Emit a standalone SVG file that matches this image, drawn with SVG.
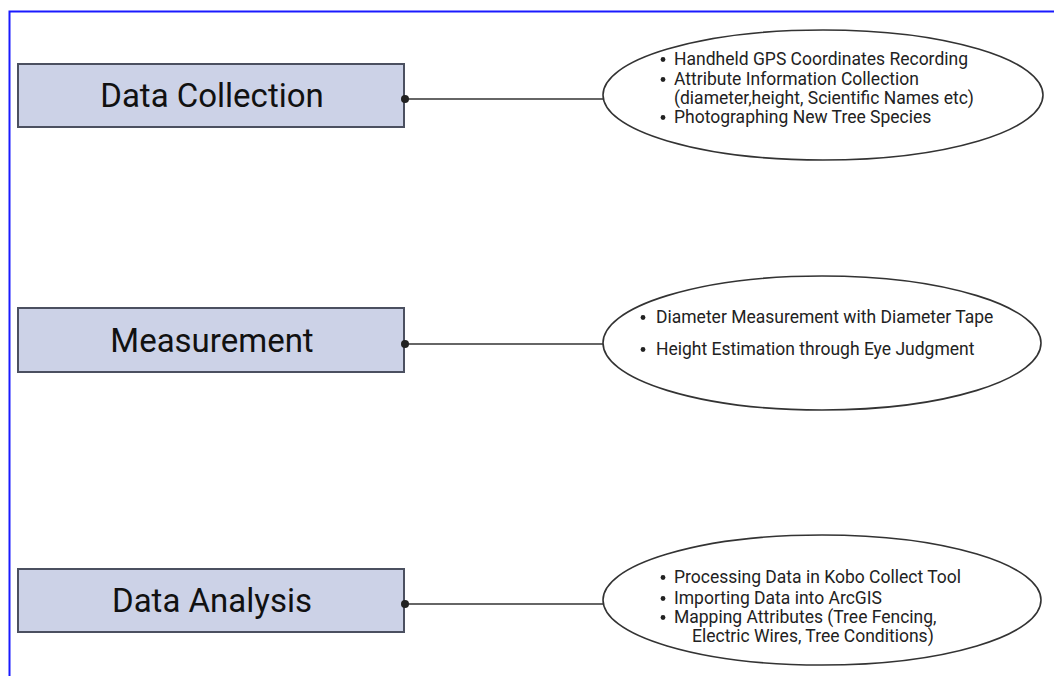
<svg xmlns="http://www.w3.org/2000/svg" width="1054" height="676" viewBox="0 0 1054 676">
<style>
.box{fill:#ccd2e7;stroke:#4b5060;stroke-width:2}
.title{font-family:Roboto,"Liberation Sans",sans-serif;font-size:33px;fill:#111;text-anchor:middle}
.ell{fill:#fff;stroke:#333;stroke-width:1.6}
.item{font-family:Roboto,"Liberation Sans",sans-serif;font-size:17.5px;fill:#222}
.bul{fill:#222}
.conn{stroke:#333;stroke-width:1.6;fill:none}
.end{fill:#222}
</style>
<rect width="1054" height="676" fill="#fff"/>
<path d="M9.5 676 V11.5 H1054" fill="none" stroke="#1a1aff" stroke-width="2"/>
<g id="data-collection">
<rect class="box" x="18" y="64" width="386" height="63"/>
<text class="title" x="212" y="107">Data Collection</text>
</g>
<g id="measurement">
<rect class="box" x="18" y="308" width="386" height="64"/>
<text class="title" x="212" y="352">Measurement</text>
</g>
<g id="data-analysis">
<rect class="box" x="18" y="569" width="386" height="63"/>
<text class="title" x="212" y="612">Data Analysis</text>
</g>
<g id="collection-details">
<ellipse class="ell" cx="823" cy="95" rx="220" ry="65"/>
<circle class="bul" cx="663" cy="59.5" r="2.4"/><text class="item" x="674" y="65">Handheld GPS Coordinates Recording</text>
<circle class="bul" cx="663" cy="79.5" r="2.4"/><text class="item" x="674" y="85">Attribute Information Collection</text>
<text class="item" x="674" y="104">(diameter,height, Scientific Names etc)</text>
<circle class="bul" cx="663" cy="117.5" r="2.4"/><text class="item" x="674" y="123">Photographing New Tree Species</text>
</g>
<g id="measurement-details">
<ellipse class="ell" cx="822" cy="343" rx="219" ry="67"/>
<circle class="bul" cx="643" cy="317.5" r="2.4"/><text class="item" x="656" y="323">Diameter Measurement with Diameter Tape</text>
<circle class="bul" cx="643" cy="349.5" r="2.4"/><text class="item" x="656" y="355">Height Estimation through Eye Judgment</text>
</g>
<g id="analysis-details">
<ellipse class="ell" cx="822" cy="600" rx="219" ry="65"/>
<circle class="bul" cx="663" cy="577.5" r="2.4"/><text class="item" x="674" y="583">Processing Data in Kobo Collect Tool</text>
<circle class="bul" cx="663" cy="598.5" r="2.4"/><text class="item" x="674" y="604">Importing Data into ArcGIS</text>
<circle class="bul" cx="663" cy="617.5" r="2.4"/><text class="item" x="674" y="623">Mapping Attributes (Tree Fencing,</text>
<text class="item" x="692" y="642">Electric Wires, Tree Conditions)</text>
</g>
<g id="connectors">
<line class="conn" x1="404" y1="99" x2="603" y2="99"/>
<circle class="end" cx="405" cy="99" r="4"/>
<line class="conn" x1="404" y1="344" x2="603" y2="344"/>
<circle class="end" cx="405" cy="344" r="4"/>
<line class="conn" x1="404" y1="604" x2="603" y2="604"/>
<circle class="end" cx="405" cy="604" r="4"/>
</g>
</svg>
